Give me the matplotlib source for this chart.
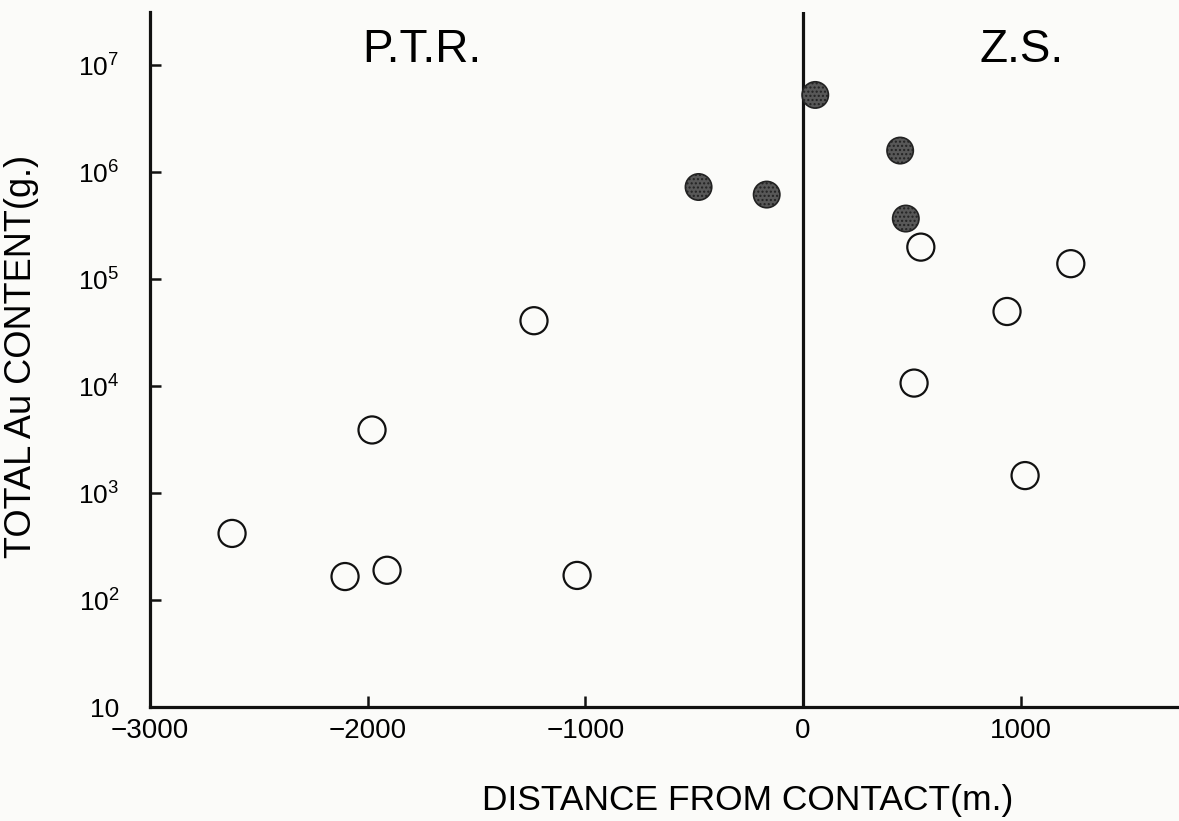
import matplotlib
matplotlib.use('Agg')
import matplotlib.pyplot as plt

plt.rcParams['font.family'] = ['Liberation Sans', 'DejaVu Sans']
plt.rcParams['mathtext.fontset'] = 'custom'
plt.rcParams['mathtext.rm'] = 'Liberation Sans'

# open circles
open_x = [-2623, -2104, -1911, -1980, -1236, -1038, 541, 1230, 937, 510, 1020]
open_y = [420, 166, 190, 3900, 4.1e4, 170, 2.0e5, 1.4e5, 5.0e4, 1.07e4, 1.46e3]

# filled (stippled) circles
filled_x = [-480, -167, 56, 446, 472]
filled_y = [7.3e5, 6.2e5, 5.3e6, 1.6e6, 3.7e5]

x_ticks = [-3000, -2000, -1000, 0, 1000]
y_ticks = [10, 1e2, 1e3, 1e4, 1e5, 1e6, 1e7]
y_ticklabels = ['10', r'$\mathregular{10^2}$', r'$\mathregular{10^3}$', r'$\mathregular{10^4}$',
                r'$\mathregular{10^5}$', r'$\mathregular{10^6}$', r'$\mathregular{10^7}$']

fig = plt.figure(figsize=(11.79, 8.21), dpi=100, facecolor='#fbfbf9')
ax = fig.add_axes([150/1179, 114/821, 1029/1179, 695/821])
ax.set_facecolor('#fbfbf9')

ax.scatter(open_x, open_y, s=380, facecolors='none', edgecolors='#111111', linewidths=1.6, zorder=3)
ax.scatter(filled_x, filled_y, s=360, facecolors='#585858', edgecolors='#222222',
           linewidths=1.2, hatch='....', zorder=3)

ax.axvline(0, color='#111111', linewidth=2.3, zorder=2)

ax.set_yscale('log')
ax.set_xlim(-3000, 1727)
ax.set_ylim(10, 10**7.5)

ax.set_xticks(x_ticks)
ax.set_xticklabels([str(t).replace('-', '\u2212') for t in x_ticks])
ax.set_yticks(y_ticks)
ax.set_yticklabels(y_ticklabels)
ax.minorticks_off()

ax.tick_params(axis='both', direction='in', length=8, width=1.8, color='#111111')
ax.tick_params(axis='x', labelsize=20, pad=8)
ax.tick_params(axis='y', labelsize=19, pad=22)

for side in ['top', 'right']:
    ax.spines[side].set_visible(False)
for side in ['left', 'bottom']:
    ax.spines[side].set_linewidth(2.3)
    ax.spines[side].set_color('#111111')

ax.set_xlabel('DISTANCE FROM CONTACT(m.)', fontsize=25.5)
ax.xaxis.set_label_coords(0.581, -0.111)
ax.set_ylabel('TOTAL Au CONTENT(g.)', fontsize=26)
ax.yaxis.set_label_coords(-0.108, 0.504)

ax.text(0.264, 0.945, 'P.T.R.', transform=ax.transAxes, fontsize=33, ha='center', va='center')
ax.text(0.847, 0.945, 'Z.S.', transform=ax.transAxes, fontsize=33, ha='center', va='center')

fig.savefig('out.png', dpi=100, facecolor=fig.get_facecolor())
